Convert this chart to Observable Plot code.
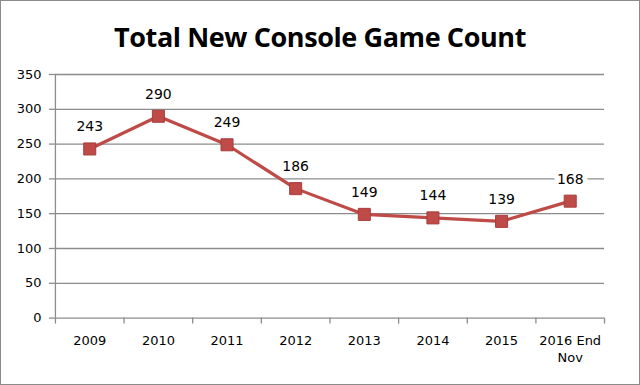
<!DOCTYPE html>
<html>
<head>
<meta charset="utf-8">
<script src="https://cdn.jsdelivr.net/npm/d3@7"></script>
<script src="https://cdn.jsdelivr.net/npm/@observablehq/plot@0.6"></script>
<style>
  html, body { margin: 0; padding: 0; background: #fff; }
  #wrap { width: 638px; height: 383px; border: 1px solid #8a8a8a; position: relative; overflow: hidden; background: #fff; }
  #title { position: absolute; left: 0; top: 18px; width: 638px; text-align: center; font-family: "Open Sans", "Noto Sans", sans-serif; font-weight: 700; font-size: 27px; letter-spacing: -0.4px; color: #000; line-height: 36px; }
  #chart { position: absolute; left: -1px; top: 61px; }
</style>
</head>
<body>
<div id="wrap">
  <div id="title">Total New Console Game Count</div>
  <div id="chart"></div>
</div>
<script>
const categories = ["2009", "2010", "2011", "2012", "2013", "2014", "2015", "2016 End\nNov"];
const values = [243, 290, 249, 186, 149, 144, 139, 168];
const yTicks = [0, 50, 100, 150, 200, 250, 300, 350];

const data = categories.map((c, i) => ({i, c, v: values[i]}));
const bounds = d3.range(categories.length + 1).map(i => i - 0.5);
const red = "#be4b48";
const grid = "#8c8c8c";
const font = "DejaVu Sans, Verdana, sans-serif";

const chart = Plot.plot({
  width: 640,
  height: 322,
  marginLeft: 55,
  marginRight: 35,
  marginTop: 12,
  marginBottom: 66,
  style: {fontFamily: font, fontSize: "13px", background: "transparent", color: "#000"},
  x: {type: "linear", domain: [-0.5, categories.length - 0.5], axis: null},
  y: {domain: [0, 350], axis: null},
  marks: [
    Plot.ruleY(yTicks, {y: d => d, stroke: grid, strokeWidth: 1.3}),
    Plot.ruleX([-0.5], {stroke: grid, strokeWidth: 1.3}),
    // y ticks and labels
    Plot.ruleY(yTicks, {y: d => d, x1: -0.5, x2: -0.5, insetLeft: -6, stroke: grid, strokeWidth: 1.3}),
    Plot.text(yTicks, {x: -0.5, y: d => d, text: d => String(d), textAnchor: "end", dx: -14, fill: "#000", fontSize: 13}),
    // x tick marks at category boundaries
    Plot.ruleX(bounds, {x: d => d, y1: 0, y2: 0, insetBottom: -6, stroke: grid, strokeWidth: 1.3}),
    Plot.text(categories, {x: (d, i) => i, y: 0, text: d => d, dy: 15, lineAnchor: "top", lineHeight: 1.3, fill: "#000", fontSize: 13}),
    // series
    Plot.line(data, {x: "i", y: "v", stroke: red, strokeWidth: 3.2}),
    Plot.dot(data, {x: "i", y: "v", symbol: "square", r: 6.8, fill: red, stroke: "#a83c3a", strokeWidth: 1}),
    Plot.text(data, {x: "i", y: "v", text: d => String(d.v), dy: -22, fill: "#000", fontSize: 14, stroke: "#fff", strokeWidth: 10, paintOrder: "stroke"})
  ]
});
document.getElementById("chart").append(chart);
</script>
</body>
</html>
